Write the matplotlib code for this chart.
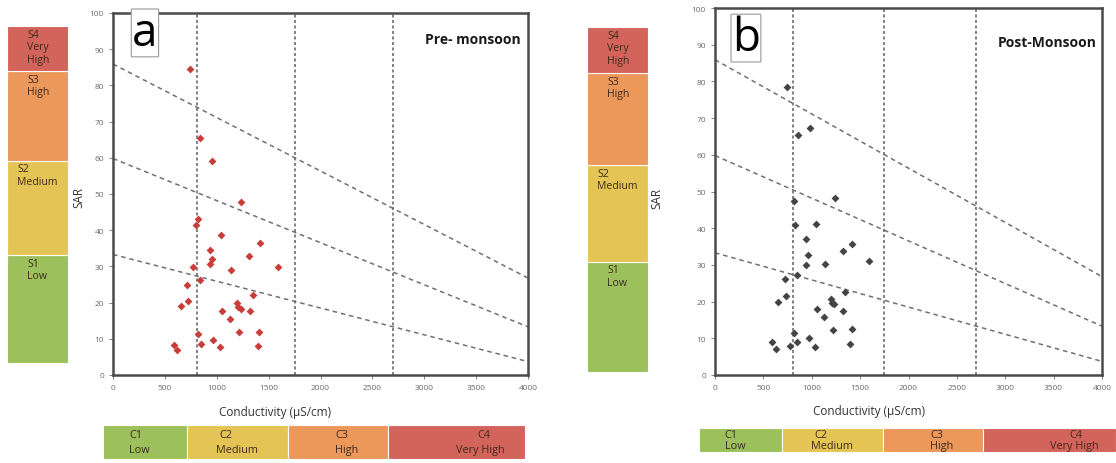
import numpy as np
import matplotlib
matplotlib.use("Agg")
import matplotlib.pyplot as plt

plt.rcParams['font.family'] = ['Open Sans', 'DejaVu Sans']

# ---- data ----
pre_ec = [739, 835, 954, 1237, 822, 803, 1038, 1414, 938, 1308, 957, 932, 771, 1590,
          1134, 842, 716, 1349, 723, 652, 1198, 1208, 1237, 1054, 1317, 1124, 816,
          1214, 1407, 964, 845, 588, 1034, 1394, 620]
pre_sar = [84.4, 65.5, 59.1, 47.8, 43.2, 41.5, 38.6, 36.4, 34.5, 32.9, 32.0, 30.8, 29.9,
           29.9, 29.0, 26.3, 25.0, 22.2, 20.5, 19.1, 20.0, 18.7, 18.2, 17.6, 17.6, 15.4,
           11.3, 11.9, 11.9, 9.6, 8.7, 8.3, 7.6, 8.0, 7.0]

post_ec = [748, 983, 862, 1241, 821, 828, 1041, 941, 1421, 1321, 966, 1593, 1138, 941,
           845, 724, 1345, 734, 648, 1200, 1207, 1231, 1059, 1321, 1128, 817, 1217,
           1414, 972, 845, 586, 776, 1034, 1397, 631]
post_sar = [78.4, 67.2, 65.4, 48.1, 47.4, 40.8, 41.1, 37.0, 35.8, 33.8, 32.6, 31.1, 30.2,
            30.0, 27.2, 26.2, 22.5, 21.4, 19.9, 20.7, 19.5, 19.3, 17.9, 17.5, 15.9, 11.5,
            12.3, 12.5, 10.1, 9.0, 9.0, 7.9, 7.5, 8.4, 7.0]

ec_bounds = [810, 1750, 2700]                 # vertical class limits
sar_lines = [(85.9, 26.8), (59.8, 13.3), (33.3, 3.7)]   # SAR at EC=0 and EC=4000

s_codes = ['S1', 'S2', 'S3', 'S4']
s_names = ['Low', 'Medium', 'High', 'Very\nHigh']
c_codes = ['C1', 'C2', 'C3', 'C4']
c_names = ['Low', 'Medium', 'High', 'Very High']

class_colors = ['#9bc05c', '#e4c454', '#ec985a', '#d3645b']
txt_col = '#3f2a1e'

W, H = 1116, 464
fig = plt.figure(figsize=(W / 100, H / 100), dpi=100)
fig.patch.set_facecolor('white')


def px_axes(x0, y0, x1, y1):
    return fig.add_axes([x0 / W, 1 - y1 / H, (x1 - x0) / W, (y1 - y0) / H])


def sar_bar(x0, y0, x1, y1):
    ax = px_axes(x0, y0, x1, y1)
    fr = [0.32, 0.28, 0.267, 0.133]   # band heights as fraction of the bar
    bottom = 0
    for code, name, col, h in zip(s_codes, s_names, class_colors, fr):
        ax.bar(0.5, h, width=1, bottom=bottom, color=col, edgecolor='white', lw=0.8)
        xt = 0.17 if code == 'S2' else 0.33
        ax.text(xt, bottom + h - 0.008, code + '\n' + name, ha='left', va='top',
                fontsize=7.6, color=txt_col, linespacing=1.2)
        bottom += h
    ax.set_xlim(0, 1)
    ax.set_ylim(0, 1)
    ax.axis('off')


def ec_bar(x0, y0, x1, y1, edges):
    ax = px_axes(x0, y0, x1, y1)
    widths = np.diff(edges)
    offs = [(0.31, 0.31), (0.32, 0.29), (0.47, 0.47), (0.65, 0.50)]
    for i in range(4):
        ax.barh(0.5, widths[i], height=1, left=edges[i], color=class_colors[i],
                edgecolor='white', lw=0.8)
        ax.text(edges[i] + offs[i][0] * widths[i], 0.72, c_codes[i], ha='left',
                va='center', fontsize=7.8, color=txt_col)
        ax.text(edges[i] + offs[i][1] * widths[i], 0.28, c_names[i], ha='left',
                va='center', fontsize=7.8, color=txt_col)
    ax.set_xlim(edges[0], edges[-1])
    ax.set_ylim(0, 1)
    ax.axis('off')


def main_panel(rect, ec, sar, mcol, letter, title, letter_xy, title_xy, xl_xy, yl_xy):
    ax = px_axes(*rect)
    x = np.array([0, 4000])
    for a, b in sar_lines:
        ax.plot(x, [a, b], ls=(0, (3, 2.5)), color='#707070', lw=1.1)
    for v in ec_bounds:
        ax.axvline(v, ls=(0, (2, 1.6)), color='#606060', lw=1.1)
    ax.scatter(ec, sar, marker='D', s=16, color=mcol, zorder=3, lw=0)
    ax.set_xlim(0, 4000)
    ax.set_ylim(0, 100)
    ax.set_xticks(np.arange(0, 4001, 500))
    ax.set_yticks(np.arange(0, 101, 10))
    ax.tick_params(labelsize=6, colors='#6a6a6a', length=3, width=0.6)
    for s in ax.spines.values():
        s.set_color('#4a4a4a')
        s.set_linewidth(1.8)
    ax.text(*letter_xy, letter, transform=ax.transAxes, fontsize=33, ha='center',
            va='center', color='black',
            bbox=dict(boxstyle='round,pad=0.02', fc='white', ec='#999999', lw=0.8))
    ax.text(*title_xy, title, transform=ax.transAxes, fontsize=10, fontweight='bold',
            ha='right', va='center', color='#1a1a1a')
    ax.set_xlabel('Conductivity (µS/cm)', fontsize=8.5, color='#333333', va='center')
    ax.xaxis.set_label_coords(*xl_xy)
    ax.set_ylabel('SAR', fontsize=8.5, color='#333333', va='center')
    ax.yaxis.set_label_coords(*yl_xy)
    return ax


main_panel((113, 14, 528, 376), pre_ec, pre_sar, '#c83e3a', 'a', 'Pre- monsoon',
           (0.077, 0.945), (0.983, 0.928), (0.39, -0.102), (-0.082, 0.494))
main_panel((715, 9, 1102, 376), post_ec, post_sar, '#444444', 'b', 'Post-Monsoon',
           (0.080, 0.918), (0.987, 0.906), (0.398, -0.098), (-0.15, 0.485))

sar_bar(7, 27, 68, 364)
sar_bar(587, 28, 648, 373)
ec_bar(103, 426, 525, 460, [103, 187, 288, 388, 525])
ec_bar(699, 429, 1116, 453, [699, 782, 883, 983, 1116])

fig.savefig('out.png', dpi=100)
